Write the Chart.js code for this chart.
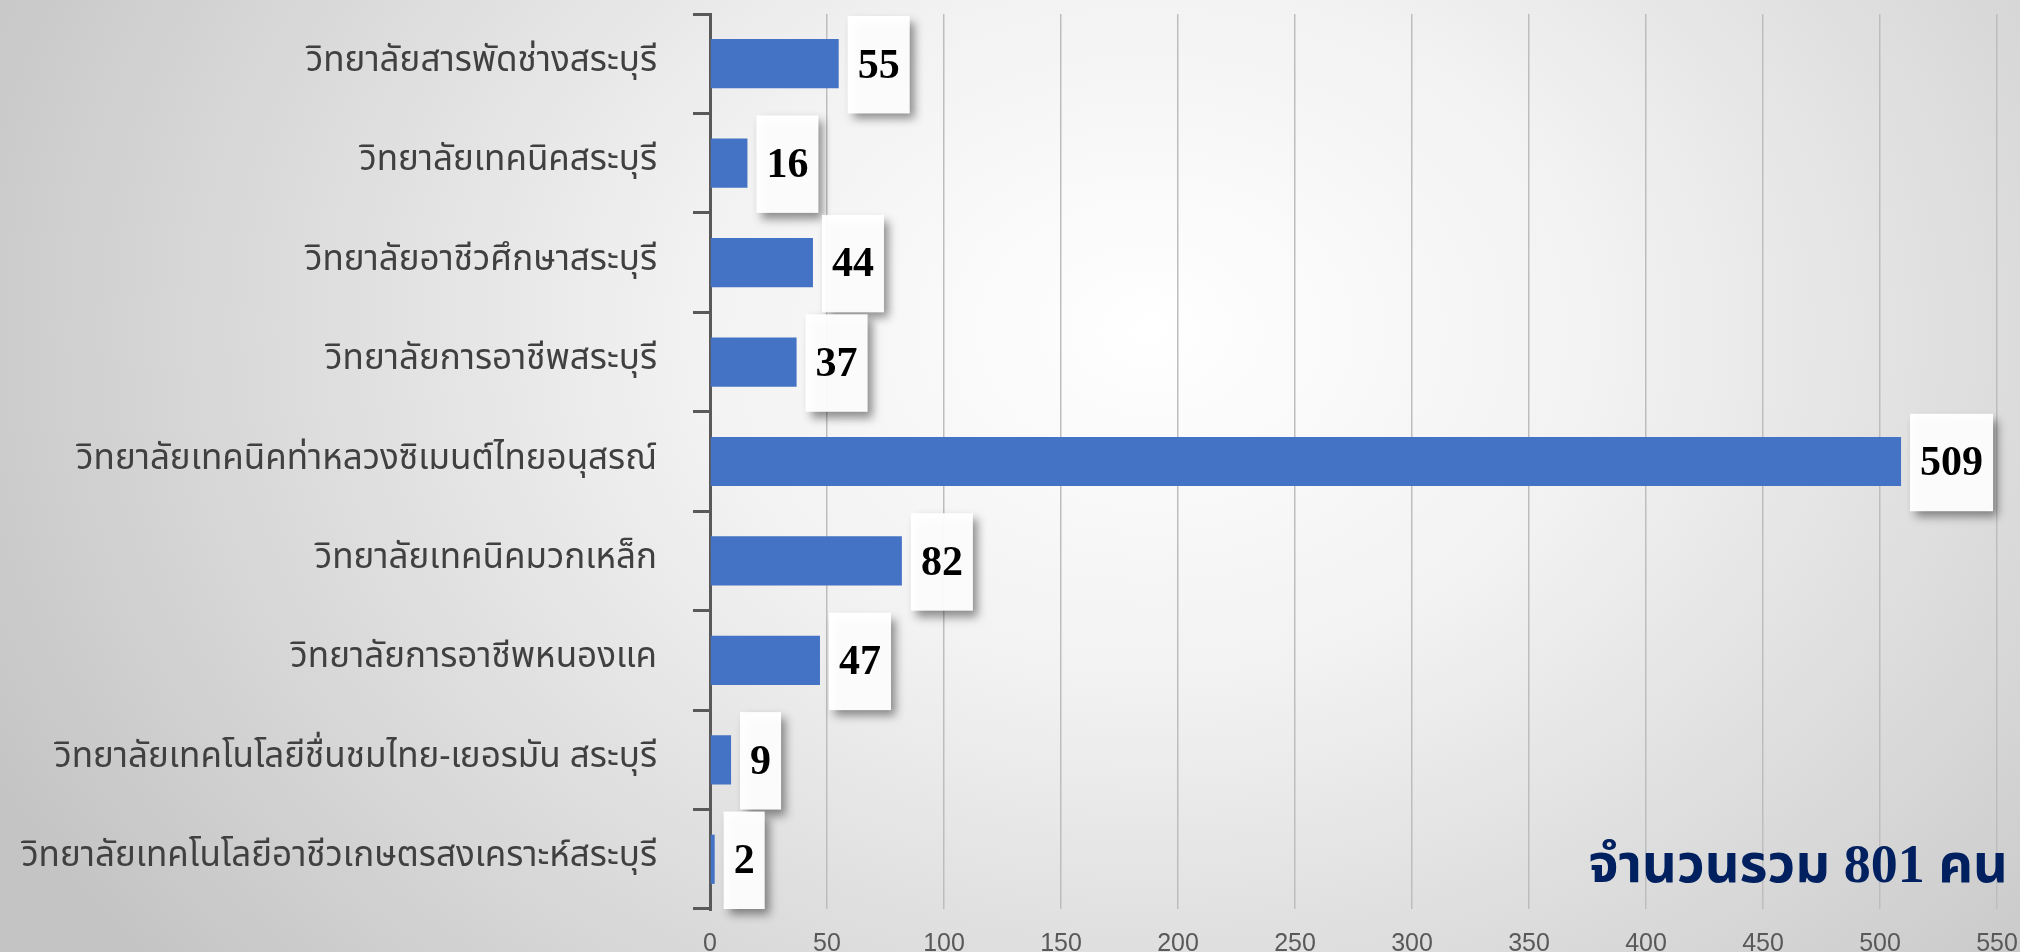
<!DOCTYPE html>
<html>
<head>
<meta charset="utf-8">
<title>จำนวนนักศึกษา</title>
<script src="https://cdn.jsdelivr.net/npm/chart.js@4.4.1/dist/chart.umd.min.js"></script>
<style>
  html, body { margin: 0; padding: 0; }
  body {
    width: 2020px; height: 952px; overflow: hidden;
    background: radial-gradient(ellipse 1300px 1000px at 1150px 330px, #ffffff 0%, #f2f2f2 35%, #d6d6d6 75%, #c4c4c4 100%);
  }
  #wrap { position: relative; width: 2020px; height: 952px; }
</style>
</head>
<body>
<div id="wrap"><canvas id="chart"></canvas></div>
<script>
// data
const colleges = [
  'วิทยาลัยสารพัดช่างสระบุรี',
  'วิทยาลัยเทคนิคสระบุรี',
  'วิทยาลัยอาชีวศึกษาสระบุรี',
  'วิทยาลัยการอาชีพสระบุรี',
  'วิทยาลัยเทคนิคท่าหลวงซิเมนต์ไทยอนุสรณ์',
  'วิทยาลัยเทคนิคมวกเหล็ก',
  'วิทยาลัยการอาชีพหนองแค',
  'วิทยาลัยเทคโนโลยีชื่นชมไทย-เยอรมัน สระบุรี',
  'วิทยาลัยเทคโนโลยีอาชีวเกษตรสงเคราะห์สระบุรี'
];
const students = [55, 16, 44, 37, 509, 82, 47, 9, 2];
const xMax = 550;
const xStep = 50;
const totalText = 'จำนวนรวม 801 คน';

const thaiFont = "'Noto Sans Thai', 'Noto Serif Thai', 'Noto Sans', sans-serif";

// white boxed value labels with a soft shadow
const valueBoxes = {
  id: 'valueBoxes',
  afterDatasetsDraw(chart) {
    const ctx = chart.ctx;
    const meta = chart.getDatasetMeta(0);
    const yScale = chart.scales.y;
    const catH = (yScale.bottom - yScale.top) / colleges.length;
    ctx.save();
    ctx.font = "bold 42px 'Liberation Serif', 'Times New Roman', serif";
    meta.data.forEach((bar, i) => {
      const txt = String(students[i]);
      const w = ctx.measureText(txt).width + 20;
      const h = catH - 2;
      const x = bar.x + 9;
      const y = bar.y - h / 2 + 1;
      ctx.save();
      ctx.shadowColor = 'rgba(0,0,0,0.45)';
      ctx.shadowBlur = 9;
      ctx.shadowOffsetX = 5;
      ctx.shadowOffsetY = 6;
      ctx.fillStyle = 'rgba(255,255,255,0.96)';
      ctx.fillRect(x, y, w, h);
      ctx.restore();
      ctx.fillStyle = '#000000';
      ctx.textAlign = 'left';
      ctx.textBaseline = 'middle';
      ctx.fillText(txt, x + 10, bar.y + 3);
    });
    ctx.restore();
  }
};

// total note in the lower right
const totalNote = {
  id: 'totalNote',
  afterDraw(chart) {
    const ctx = chart.ctx;
    ctx.save();
    ctx.font = "bold 54px 'Liberation Serif', " + thaiFont;
    ctx.fillStyle = '#002060';
    ctx.textAlign = 'right';
    ctx.textBaseline = 'alphabetic';
    ctx.fillText(totalText, 2008, 882);
    ctx.restore();
  }
};

new Chart(document.getElementById('chart'), {
  type: 'bar',
  data: {
    labels: colleges,
    datasets: [{
      data: students,
      backgroundColor: '#4472C4',
      barPercentage: 0.495,
      categoryPercentage: 1.0
    }]
  },
  options: {
    indexAxis: 'y',
    responsive: true,
    maintainAspectRatio: false,
    animation: false,
    layout: { padding: { top: 14, right: 23, left: 0, bottom: 0 } },
    plugins: {
      legend: { display: false },
      tooltip: { enabled: false }
    },
    scales: {
      x: {
        min: 0,
        max: xMax,
        ticks: {
          stepSize: xStep,
          color: '#595959',
          font: { family: "'Liberation Sans Narrow', 'Liberation Sans', sans-serif", size: 25 },
          padding: 20
        },
        grid: { color: '#bdbdbd', lineWidth: 1.5, drawTicks: false },
        border: { display: false },
        afterFit(scale) {
          scale.height = 43;
          scale.paddingLeft = 0;
          scale.paddingRight = 0;
        }
      },
      y: {
        ticks: {
          color: '#404040',
          font: { family: thaiFont, size: 35 },
          padding: 36
        },
        grid: {
          offset: true,
          drawOnChartArea: false,
          drawTicks: true,
          tickLength: 17,
          color: '#595959',
          lineWidth: 3
        },
        border: { display: true, color: '#595959', width: 3 },
        afterFit(scale) {
          scale.width = 710;
          scale.paddingTop = 0;
          scale.paddingBottom = 0;
        }
      }
    }
  },
  plugins: [valueBoxes, totalNote]
});
</script>
</body>
</html>
